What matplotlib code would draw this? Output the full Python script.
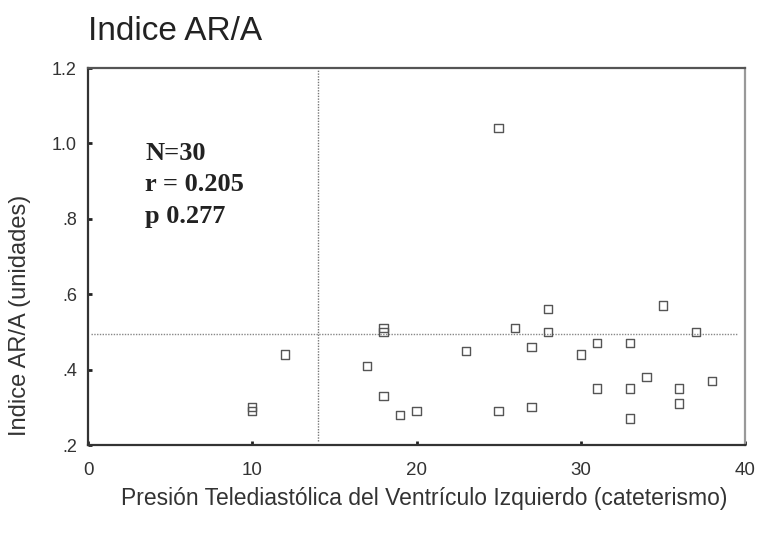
import matplotlib.pyplot as plt

# PTDVI por cateterismo vs. indice AR/A
ptdvi = [10, 10, 12, 17, 18, 18, 18, 19, 20, 23, 25, 25, 26, 27, 27,
         28, 28, 30, 31, 31, 33, 33, 33, 34, 35, 36, 36, 37, 38]
ar_a = [0.30, 0.29, 0.44, 0.41, 0.51, 0.50, 0.33, 0.28, 0.29, 0.45, 1.04, 0.29,
        0.51, 0.46, 0.30, 0.56, 0.50, 0.44, 0.47, 0.35, 0.47, 0.35, 0.27, 0.38,
        0.57, 0.35, 0.31, 0.50, 0.37]

corte_x = 14
corte_y = 0.495

xticks = [0, 10, 20, 30, 40]
yticks = [0.2, 0.4, 0.6, 0.8, 1.0, 1.2]
ytick_labels = ['.2', '.4', '.6', '.8', '1.0', '1.2']

plt.rcParams['font.family'] = ['Liberation Sans', 'DejaVu Sans']

fig = plt.figure(figsize=(7.59, 5.34), dpi=100)
ax = fig.add_axes([88/759, 1 - 445/534, (745-88)/759, (445-68)/534])

ax.axvline(corte_x, ymin=0.01, ymax=0.995, color='#777777', lw=1, ls=(0, (1, 1)))
ax.axhline(corte_y, xmin=0.005, xmax=0.99, color='#888888', lw=1, ls=(0, (1, 1)))

ax.scatter(ptdvi, ar_a, marker='s', s=36, facecolors='none',
           edgecolors='#555555', linewidths=1, zorder=3)

ax.set_xlim(0, 40)
ax.set_ylim(0.2, 1.2)
ax.set_xticks(xticks)
ax.set_xticklabels([str(t) for t in xticks], fontsize=13.5, color='#333333')
ax.set_yticks(yticks)
ax.set_yticklabels(ytick_labels, fontsize=13, color='#333333')
ax.tick_params(axis='x', direction='in', length=3, width=2, pad=12, color='#222222')
ax.tick_params(axis='y', direction='in', length=3, width=2, pad=8, color='#222222')

for side, col in [('left', '#333333'), ('bottom', '#333333'),
                  ('top', '#555555'), ('right', '#999999')]:
    ax.spines[side].set_color(col)
    ax.spines[side].set_linewidth(1.6)

ax.text(3.5, 1.005, 'N=30\nr = 0.205\np 0.277', family='Liberation Serif',
        fontweight='bold', fontsize=19, color='#222222', va='top',
        linespacing=1.48)

fig.text(88/759, 1 - 31/534, 'Indice AR/A', fontsize=24, color='#222222',
         va='center', ha='left')
fig.text(20/759, 1 - 315/534, 'Indice AR/A (unidades)', rotation=90,
         fontsize=17, color='#333333', va='center', ha='center')
fig.text(424/759, 1 - 498/534,
         'Presión Telediastólica del Ventrículo Izquierdo (cateterismo)',
         fontsize=16.5, color='#333333', va='center', ha='center')

fig.savefig('out.png', dpi=100)
